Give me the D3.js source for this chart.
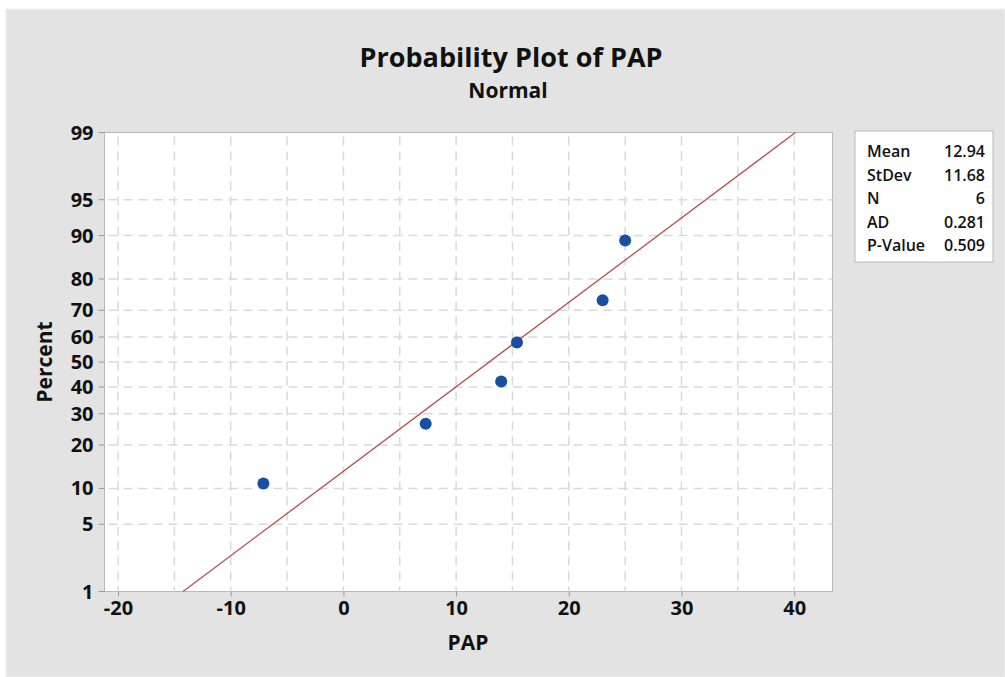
<!DOCTYPE html>
<html>
<head>
<meta charset="utf-8">
<script src="https://cdn.jsdelivr.net/npm/d3@7"></script>
<style>
  body { margin: 0; background: #fff; }
  svg text { font-family: "Open Sans", "DejaVu Sans", sans-serif; fill: #111; }
  .tick text, .tk text { font-size: 20px; font-weight: 700; }
</style>
</head>
<body>
<svg id="chart" width="1005" height="677"></svg>
<script>
// Data
const pap      = [-7.1, 7.3, 14.0, 15.4, 23.0, 25.0];
const percent  = [10.9, 26.6, 42.2, 57.8, 73.4, 89.1];
const fitMean  = 12.94;
const fitSd    = 11.68;
const statLabels = ["Mean", "StDev", "N", "AD", "P-Value"];
const statValues = ["12.94", "11.68", "6", "0.281", "0.509"];
const yTicks   = [1, 5, 10, 20, 30, 40, 50, 60, 70, 80, 90, 95, 99];
const xTicks   = [-20, -10, 0, 10, 20, 30, 40];
const xGrid    = d3.range(-20, 41, 5);

const svg = d3.select("#chart");

// background panel
svg.append("rect")
  .attr("x", 6).attr("y", 9).attr("width", 999).attr("height", 668)
  .attr("fill", "#e3e3e3").attr("stroke", "#f0f0f0");

// plot box
const plot = { left: 104.5, right: 832.5, top: 132.5, bottom: 591.5 };

// inverse normal CDF (Acklam)
function qnorm(p) {
  const a = [-39.6968302866538, 220.946098424521, -275.928510446969, 138.357751867269, -30.6647980661472, 2.50662827745924];
  const b = [-54.4760987982241, 161.585836858041, -155.698979859887, 66.8013118877197, -13.2806815528857];
  const c = [-0.00778489400243029, -0.322396458041136, -2.40075827716184, -2.54973253934373, 4.37466414146497, 2.93816398269878];
  const d = [0.00778469570904146, 0.32246712907004, 2.445134137143, 3.75440866190742];
  const pl = 0.02425;
  let q, r;
  if (p < pl) {
    q = Math.sqrt(-2 * Math.log(p));
    return (((((c[0]*q+c[1])*q+c[2])*q+c[3])*q+c[4])*q+c[5]) / ((((d[0]*q+d[1])*q+d[2])*q+d[3])*q+1);
  } else if (p <= 1 - pl) {
    q = p - 0.5; r = q * q;
    return (((((a[0]*r+a[1])*r+a[2])*r+a[3])*r+a[4])*r+a[5])*q / (((((b[0]*r+b[1])*r+b[2])*r+b[3])*r+b[4])*r+1);
  } else {
    q = Math.sqrt(-2 * Math.log(1 - p));
    return -(((((c[0]*q+c[1])*q+c[2])*q+c[3])*q+c[4])*q+c[5]) / ((((d[0]*q+d[1])*q+d[2])*q+d[3])*q+1);
  }
}

const x = d3.scaleLinear().domain([-21.2, 43.4]).range([plot.left, plot.right]);
const zScale = d3.scaleLinear().domain([qnorm(0.01), qnorm(0.99)]).range([plot.bottom, plot.top]);
const y = p => zScale(qnorm(p / 100));

// plot area
svg.append("rect")
  .attr("x", plot.left).attr("y", plot.top)
  .attr("width", plot.right - plot.left).attr("height", plot.bottom - plot.top)
  .attr("fill", "#fff").attr("stroke", "#b8b8b8");

// gridlines
const grid = svg.append("g").attr("stroke", "#d9d9d9").attr("stroke-width", 1.5).attr("stroke-dasharray", "9,6");
grid.selectAll("line.v").data(xGrid).join("line")
  .attr("x1", d => x(d)).attr("x2", d => x(d))
  .attr("y1", plot.top + 4).attr("y2", plot.bottom);
grid.selectAll("line.h").data(yTicks.filter(t => t !== 1 && t !== 99)).join("line")
  .attr("x1", plot.left + 4).attr("x2", plot.right)
  .attr("y1", d => y(d)).attr("y2", d => y(d));

// axes
const xAxis = svg.append("g")
  .attr("transform", `translate(0,${plot.bottom})`)
  .call(d3.axisBottom(x).tickValues(xTicks).tickSize(5).tickPadding(4).tickFormat(d => String(d)));
xAxis.select(".domain").remove();
xAxis.selectAll(".tick line").attr("stroke", "#999");
xAxis.selectAll(".tick text").attr("fill", "#111");

const yAxis = svg.append("g").attr("transform", `translate(${plot.left},0)`);
yAxis.selectAll("g.tk").data(yTicks).join("g").attr("class", "tk")
  .attr("transform", d => `translate(0,${y(d)})`)
  .call(g => g.append("line").attr("x2", -6).attr("stroke", "#999"))
  .call(g => g.append("text").attr("x", -11).attr("dy", "0.35em")
    .attr("text-anchor", "end").text(d => d));

// fitted line
const zs = [qnorm(0.01), qnorm(0.99)];
svg.append("path")
  .datum(zs)
  .attr("fill", "none").attr("stroke", "#b5514f").attr("stroke-width", 1.3)
  .attr("d", d3.line().x(z => x(fitMean + fitSd * z)).y(z => zScale(z)));

// points
svg.selectAll("circle.pt").data(pap).join("circle")
  .attr("class", "pt")
  .attr("cx", d => x(d)).attr("cy", (d, i) => y(percent[i]))
  .attr("r", 6).attr("fill", "#1a4f9f");

// titles
svg.append("text").attr("x", 511).attr("y", 67).attr("text-anchor", "middle")
  .style("font-size", "27px").style("font-weight", 700).attr("textLength", 303)
  .text("Probability Plot of PAP");
svg.append("text").attr("x", 508).attr("y", 98).attr("text-anchor", "middle")
  .style("font-size", "21px").style("font-weight", 700)
  .text("Normal");
svg.append("text").attr("x", 468).attr("y", 650).attr("text-anchor", "middle")
  .style("font-size", "21px").style("font-weight", 700)
  .text("PAP");
svg.append("text").attr("transform", "translate(52,362) rotate(-90)").attr("text-anchor", "middle")
  .style("font-size", "21px").style("font-weight", 700)
  .text("Percent");

// stats box
const box = svg.append("g").attr("transform", "translate(855,131)");
box.append("rect").attr("width", 138).attr("height", 131)
  .attr("fill", "#fff").attr("stroke", "#b8b8b8");
box.selectAll("text.lab").data(statLabels).join("text")
  .attr("x", 12).attr("y", (d, i) => 26 + i * 23.5)
  .style("font-size", "16px").style("font-weight", 600).text(d => d);
box.selectAll("text.val").data(statValues).join("text")
  .attr("x", 130).attr("y", (d, i) => 26 + i * 23.5).attr("text-anchor", "end")
  .style("font-size", "16px").style("font-weight", 600).text(d => d);
</script>
</body>
</html>
